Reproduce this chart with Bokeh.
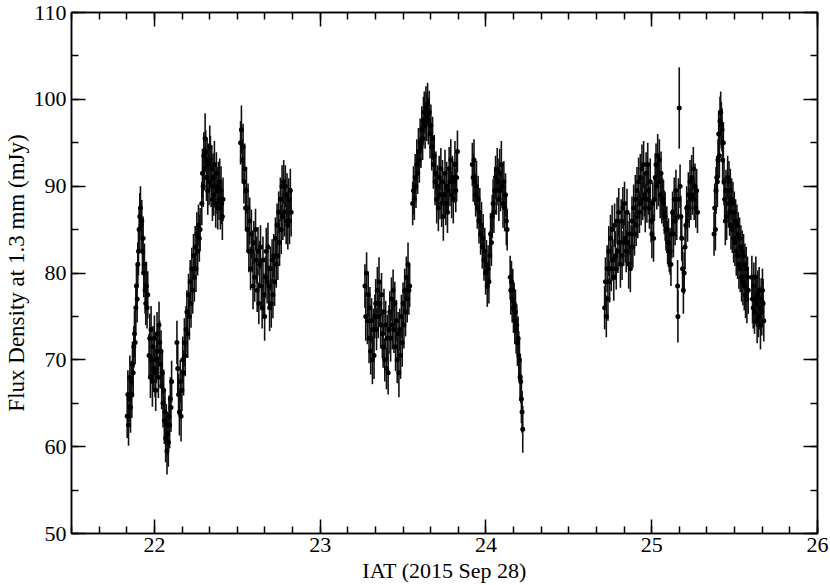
from bokeh.plotting import figure
from bokeh.models import (ColumnDataSource, LinearAxis, SingleIntervalTicker, Range1d,
                          CustomJSTickFormatter, GlobalInlineStyleSheet, Title)
from bokeh.embed import file_html
from bokeh.resources import INLINE

# ---------------- data ----------------
# scan 1a
t_1a = [21.836, 21.840, 21.844, 21.848, 21.852, 21.856, 21.860, 21.864, 21.868, 21.872,
        21.876, 21.880, 21.884, 21.888, 21.892, 21.896, 21.900, 21.904, 21.908, 21.912,
        21.916, 21.920, 21.924, 21.928, 21.932, 21.936, 21.940, 21.944, 21.948, 21.952,
        21.956, 21.960]
f_1a = [63.5, 66.0, 62.5, 65.5, 68.0, 64.5, 67.5, 66.0, 69.5, 68.5,
        71.5, 73.0, 72.0, 76.0, 78.5, 77.0, 81.0, 82.5, 85.0, 86.5,
        87.5, 85.5, 86.0, 82.5, 84.0, 80.0, 81.0, 78.0, 76.5, 78.5,
        76.0, 77.5]
e_1a = [2.5, 2.8, 2.4, 2.7, 2.5, 2.9, 2.4, 2.7, 2.6, 2.8,
        2.4, 2.7, 2.5, 2.8, 2.4, 2.7, 2.5, 2.8, 2.4, 2.7,
        2.5, 2.8, 2.4, 2.7, 2.5, 2.8, 2.4, 2.7, 2.5, 2.8,
        2.4, 2.7]
# scan 1b
t_1b = [21.968, 21.972, 21.976, 21.980, 21.984, 21.988, 21.992, 21.996, 22.000, 22.004,
        22.008, 22.012, 22.016, 22.020, 22.024, 22.028, 22.032, 22.036, 22.040, 22.044,
        22.048, 22.052, 22.056, 22.060, 22.064, 22.068, 22.072, 22.076, 22.080, 22.084,
        22.088, 22.092, 22.096, 22.100, 22.104]
f_1b = [70.5, 72.5, 68.0, 73.5, 70.0, 67.5, 71.5, 69.0, 72.5, 68.5,
        66.5, 70.0, 73.0, 71.0, 68.0, 74.0, 72.0, 69.5, 71.0, 67.0,
        68.5, 65.0, 66.5, 63.0, 64.0, 61.0, 62.5, 59.5, 61.5, 60.5,
        63.5, 62.5, 65.5, 64.5, 67.5]
e_1b = [2.5, 2.8, 2.4, 2.7, 2.5, 2.9, 2.4, 2.7, 2.6, 2.8,
        2.4, 2.7, 2.5, 2.8, 2.4, 2.7, 2.5, 2.8, 2.4, 2.7,
        2.5, 2.8, 2.4, 2.7, 2.5, 2.8, 2.4, 2.7, 2.5, 2.8,
        2.4, 2.7, 2.5, 2.8, 2.4]
# scan 1c
t_1c = [22.136, 22.141, 22.146, 22.151, 22.156, 22.161, 22.166, 22.171, 22.176, 22.181,
        22.186, 22.191, 22.196, 22.201, 22.206, 22.211, 22.216, 22.221, 22.226, 22.231,
        22.236, 22.241, 22.246, 22.251, 22.256, 22.261, 22.266, 22.271, 22.276]
f_1c = [72.0, 69.0, 66.0, 64.0, 67.5, 63.5, 66.5, 70.0, 68.5, 72.0,
        70.5, 73.5, 75.5, 73.0, 77.5, 75.0, 79.0, 76.5, 80.5, 78.0,
        82.0, 79.5, 83.0, 80.5, 84.5, 82.5, 85.5, 84.0, 85.0]
e_1c = [2.5, 2.8, 2.4, 2.7, 2.5, 2.9, 2.4, 2.7, 2.6, 2.8,
        2.4, 2.7, 2.5, 2.8, 2.4, 2.7, 2.5, 2.8, 2.4, 2.7,
        2.5, 2.8, 2.4, 2.7, 2.5, 2.8, 2.4, 2.7, 2.5]
# scan 1d
t_1d = [22.286, 22.290, 22.294, 22.298, 22.302, 22.306, 22.310, 22.314, 22.318, 22.322,
        22.326, 22.330, 22.334, 22.338, 22.342, 22.346, 22.350, 22.354, 22.358, 22.362,
        22.366, 22.370, 22.374, 22.378, 22.382, 22.386, 22.390, 22.394, 22.398, 22.402,
        22.406, 22.410, 22.414]
f_1d = [88.0, 91.5, 90.0, 93.5, 92.0, 95.5, 94.0, 91.0, 93.0, 89.5,
        92.5, 90.5, 94.5, 93.0, 90.0, 92.0, 88.5, 91.0, 89.0, 92.5,
        90.0, 88.0, 91.5, 89.5, 87.5, 90.0, 88.5, 90.5, 87.5, 89.5,
        88.0, 86.5, 88.5]
e_1d = [2.5, 2.8, 2.4, 2.7, 2.5, 2.9, 2.4, 2.7, 2.6, 2.8,
        2.4, 2.7, 2.5, 2.8, 2.4, 2.7, 2.5, 2.8, 2.4, 2.7,
        2.5, 2.8, 2.4, 2.7, 2.5, 2.8, 2.4, 2.7, 2.5, 2.8,
        2.4, 2.7, 2.5]
# scan 1e
t_1e = [22.520, 22.525, 22.530, 22.535, 22.540, 22.545, 22.550, 22.555, 22.560, 22.565,
        22.570, 22.575, 22.580, 22.585, 22.590, 22.595, 22.600, 22.605, 22.610, 22.615,
        22.620, 22.625, 22.630, 22.635, 22.640, 22.645, 22.650, 22.655, 22.660, 22.665,
        22.670, 22.675, 22.680, 22.685, 22.690, 22.695, 22.700, 22.705, 22.710, 22.715,
        22.720, 22.725, 22.730, 22.735, 22.740, 22.745, 22.750, 22.755, 22.760, 22.765,
        22.770, 22.775, 22.780, 22.785, 22.790, 22.795, 22.800, 22.805, 22.810, 22.815,
        22.820, 22.825]
f_1e = [95.0, 96.5, 93.0, 94.5, 90.5, 92.0, 87.5, 89.5, 85.0, 87.5,
        82.5, 86.0, 80.5, 84.5, 82.5, 78.5, 83.5, 79.5, 85.0, 81.5,
        78.0, 82.5, 76.5, 81.0, 83.0, 78.5, 76.0, 81.5, 77.5, 75.0,
        79.5, 82.5, 79.0, 83.0, 78.5, 76.0, 80.5, 76.5, 81.5, 77.5,
        82.0, 79.0, 84.0, 81.0, 85.5, 82.0, 87.0, 83.5, 88.5, 85.0,
        90.0, 86.5, 90.5, 87.0, 90.0, 86.0, 89.0, 85.5, 88.5, 86.0,
        89.5, 87.0]
e_1e = [2.5, 2.8, 2.4, 2.7, 2.5, 2.9, 2.4, 2.7, 2.6, 2.8,
        2.4, 2.7, 2.5, 2.8, 2.4, 2.7, 2.5, 2.8, 2.4, 2.7,
        2.5, 2.8, 2.4, 2.7, 2.5, 2.8, 2.4, 2.7, 2.5, 2.8,
        2.4, 2.7, 2.5, 2.8, 2.4, 2.7, 2.5, 2.8, 2.4, 2.7,
        2.5, 2.8, 2.4, 2.7, 2.5, 2.8, 2.4, 2.7, 2.5, 2.8,
        2.4, 2.7, 2.5, 2.8, 2.4, 2.7, 2.5, 2.8, 2.4, 2.7,
        2.5, 2.8]
# scan 2a
t_2a = [23.270, 23.275, 23.280, 23.285, 23.290, 23.295, 23.300, 23.305, 23.310, 23.315,
        23.320, 23.325, 23.330, 23.335, 23.340, 23.345, 23.350, 23.355, 23.360, 23.365,
        23.370, 23.375, 23.380, 23.385, 23.390, 23.395, 23.400, 23.405, 23.410, 23.415,
        23.420, 23.425, 23.430, 23.435, 23.440, 23.445, 23.450, 23.455, 23.460, 23.465,
        23.470, 23.475, 23.480, 23.485, 23.490, 23.495, 23.500, 23.505, 23.510, 23.515,
        23.520, 23.525, 23.530, 23.535, 23.540]
f_2a = [78.5, 75.0, 80.0, 74.5, 77.5, 72.5, 76.0, 71.0, 74.5, 70.0,
        73.5, 70.5, 75.0, 76.5, 73.5, 78.0, 75.0, 79.0, 76.5, 74.0,
        77.5, 73.0, 71.5, 75.5, 70.0, 74.0, 69.0, 72.5, 68.5, 73.5,
        75.5, 72.5, 77.0, 74.0, 78.0, 73.5, 76.5, 71.5, 74.5, 70.0,
        73.0, 68.5, 73.5, 70.5, 75.0, 72.0, 76.5, 74.0, 78.0, 75.5,
        79.5, 77.0, 81.0, 78.0, 78.5]
e_2a = [2.5, 2.8, 2.4, 2.7, 2.5, 2.9, 2.4, 2.7, 2.6, 2.8,
        2.4, 2.7, 2.5, 2.8, 2.4, 2.7, 2.5, 2.8, 2.4, 2.7,
        2.5, 2.8, 2.4, 2.7, 2.5, 2.8, 2.4, 2.7, 2.5, 2.8,
        2.4, 2.7, 2.5, 2.8, 2.4, 2.7, 2.5, 2.8, 2.4, 2.7,
        2.5, 2.8, 2.4, 2.7, 2.5, 2.8, 2.4, 2.7, 2.5, 2.8,
        2.4, 2.7, 2.5, 2.8, 2.4]
# scan 2b
t_2b = [23.558, 23.563, 23.568, 23.573, 23.578, 23.583, 23.588, 23.593, 23.598, 23.603,
        23.608, 23.613, 23.618, 23.623, 23.628, 23.633, 23.638, 23.643, 23.648, 23.653,
        23.658, 23.663, 23.668, 23.673, 23.678, 23.683, 23.688, 23.693, 23.698, 23.703,
        23.708, 23.713, 23.718, 23.723, 23.728, 23.733, 23.738, 23.743, 23.748, 23.753,
        23.758, 23.763, 23.768, 23.773, 23.778, 23.783, 23.788, 23.793, 23.798, 23.803,
        23.808, 23.813, 23.818, 23.823, 23.828]
f_2b = [88.0, 89.5, 88.5, 91.0, 90.0, 92.5, 91.5, 94.0, 93.0, 95.0,
        94.5, 96.5, 95.5, 97.5, 98.5, 97.0, 99.0, 98.0, 99.5, 97.5,
        98.5, 96.0, 97.0, 94.5, 95.5, 92.5, 93.5, 90.5, 91.5, 88.5,
        90.0, 87.5, 91.0, 89.0, 92.0, 88.0, 90.5, 86.5, 89.0, 91.5,
        88.0, 90.0, 87.0, 89.5, 92.0, 90.5, 93.0, 89.0, 91.0, 88.5,
        90.5, 92.5, 89.5, 91.0, 94.0]
e_2b = [2.5, 2.8, 2.4, 2.7, 2.5, 2.9, 2.4, 2.7, 2.6, 2.8,
        2.4, 2.7, 2.5, 2.8, 2.4, 2.7, 2.5, 2.8, 2.4, 2.7,
        2.5, 2.8, 2.4, 2.7, 2.5, 2.8, 2.4, 2.7, 2.5, 2.8,
        2.4, 2.7, 2.5, 2.8, 2.4, 2.7, 2.5, 2.8, 2.4, 2.7,
        2.5, 2.8, 2.4, 2.7, 2.5, 2.8, 2.4, 2.7, 2.5, 2.8,
        2.4, 2.7, 2.5, 2.8, 2.4]
# scan 2c
t_2c = [23.918, 23.923, 23.928, 23.933, 23.938, 23.943, 23.948, 23.953, 23.958, 23.963,
        23.968, 23.973, 23.978, 23.983, 23.988, 23.993, 23.998, 24.003, 24.008, 24.013,
        24.018, 24.023, 24.028, 24.033, 24.038, 24.043, 24.048, 24.053, 24.058, 24.063,
        24.068, 24.073, 24.078, 24.083, 24.088, 24.093, 24.098, 24.103, 24.108, 24.113,
        24.118, 24.123, 24.128]
f_2c = [92.5, 91.0, 93.0, 90.5, 89.0, 90.0, 87.5, 88.5, 86.0, 87.0,
        84.5, 85.5, 83.0, 84.0, 81.5, 82.5, 80.0, 81.0, 78.5, 80.5,
        79.0, 82.0, 84.5, 83.5, 86.5, 88.0, 87.0, 89.5, 91.0, 89.5,
        92.0, 90.5, 88.5, 91.5, 89.5, 92.5, 90.0, 88.0, 90.5, 87.5,
        89.0, 86.0, 85.0]
e_2c = [2.5, 2.8, 2.4, 2.7, 2.5, 2.9, 2.4, 2.7, 2.6, 2.8,
        2.4, 2.7, 2.5, 2.8, 2.4, 2.7, 2.5, 2.8, 2.4, 2.7,
        2.5, 2.8, 2.4, 2.7, 2.5, 2.8, 2.4, 2.7, 2.5, 2.8,
        2.4, 2.7, 2.5, 2.8, 2.4, 2.7, 2.5, 2.8, 2.4, 2.7,
        2.5, 2.8, 2.4]
# scan 2d
t_2d = [24.146, 24.150, 24.154, 24.158, 24.162, 24.166, 24.170, 24.174, 24.178, 24.182,
        24.186, 24.190, 24.194, 24.198, 24.202, 24.206, 24.210, 24.214, 24.218, 24.222]
f_2d = [79.5, 78.0, 79.0, 77.0, 78.0, 76.0, 76.5, 74.5, 75.5, 73.5,
        74.0, 72.0, 72.5, 70.5, 70.0, 68.0, 67.5, 65.5, 64.0, 62.0]
e_2d = [2.5, 2.8, 2.4, 2.7, 2.5, 2.9, 2.4, 2.7, 2.6, 2.8,
        2.4, 2.7, 2.5, 2.8, 2.4, 2.7, 2.5, 2.8, 2.4, 2.7]
# scan 3a
t_3a = [24.716, 24.721, 24.726, 24.731, 24.736, 24.741, 24.746, 24.751, 24.756, 24.761,
        24.766, 24.771, 24.776, 24.781, 24.786, 24.791, 24.796, 24.801, 24.806, 24.811,
        24.816, 24.821, 24.826, 24.831, 24.836, 24.841, 24.846, 24.851, 24.856, 24.861,
        24.866, 24.871, 24.876, 24.881, 24.886, 24.891, 24.896, 24.901, 24.906, 24.911,
        24.916, 24.921, 24.926, 24.931, 24.936, 24.941, 24.946, 24.951, 24.956, 24.961,
        24.966, 24.971, 24.976, 24.981, 24.986, 24.991, 24.996, 25.001, 25.006, 25.011,
        25.016, 25.021, 25.026, 25.031, 25.036, 25.041, 25.046, 25.051, 25.056, 25.061,
        25.066, 25.071, 25.076, 25.081, 25.086, 25.091, 25.096, 25.101, 25.106, 25.111,
        25.116, 25.121, 25.126, 25.131, 25.136, 25.141, 25.146, 25.151]
f_3a = [76.0, 79.0, 75.0, 80.5, 77.0, 82.5, 79.0, 84.0, 80.5, 85.0,
        81.5, 79.5, 85.5, 82.0, 80.5, 86.0, 82.5, 87.0, 83.5, 81.0,
        86.0, 82.0, 87.5, 83.5, 88.0, 84.0, 82.5, 87.0, 83.5, 81.0,
        84.5, 80.5, 83.0, 86.0, 83.0, 87.5, 84.5, 88.5, 85.5, 89.5,
        86.5, 90.5, 87.0, 91.0, 88.0, 92.0, 88.5, 92.5, 89.0, 87.5,
        91.5, 88.5, 92.5, 89.5, 87.5, 90.5, 86.0, 84.5, 88.0, 84.0,
        88.5, 91.0, 92.5, 90.0, 93.5, 90.5, 93.0, 89.0, 91.5, 88.5,
        88.5, 88.0, 87.0, 86.5, 85.0, 85.0, 83.5, 83.5, 82.5, 82.5,
        81.0, 84.5, 87.0, 84.5, 88.5, 86.0, 89.5, 86.5]
e_3a = [2.5, 2.8, 2.4, 2.7, 2.5, 2.9, 2.4, 2.7, 2.6, 2.8,
        2.4, 2.7, 2.5, 2.8, 2.4, 2.7, 2.5, 2.8, 2.4, 2.7,
        2.5, 2.8, 2.4, 2.7, 2.5, 2.8, 2.4, 2.7, 2.5, 2.8,
        2.4, 2.7, 2.5, 2.8, 2.4, 2.7, 2.5, 2.8, 2.4, 2.7,
        2.5, 2.8, 2.4, 2.7, 2.5, 2.8, 2.4, 2.7, 2.5, 2.8,
        2.4, 2.7, 2.5, 2.8, 2.4, 2.7, 2.5, 2.8, 2.4, 2.7,
        2.5, 2.8, 2.4, 2.7, 2.5, 2.8, 2.4, 2.7, 2.5, 2.8,
        2.4, 2.7, 2.5, 2.8, 2.4, 2.7, 2.5, 2.8, 2.4, 2.7,
        2.5, 2.8, 2.4, 2.7, 2.5, 2.8, 2.4, 2.7]
# scan 3b (includes the lone high point near 25.17 h)
t_3b = [25.156, 25.158, 25.161, 25.166, 25.171, 25.176, 25.181, 25.186, 25.191, 25.196,
        25.201, 25.206, 25.211, 25.216, 25.221, 25.226, 25.231, 25.236, 25.241, 25.246,
        25.251, 25.256, 25.261, 25.266, 25.271, 25.276]
f_3b = [78.5, 75.0, 88.5, 99.0, 90.0, 86.5, 84.0, 80.5, 78.0, 80.0,
        83.0, 85.5, 87.5, 86.0, 89.0, 87.5, 90.5, 88.5, 91.0, 89.0,
        92.0, 88.5, 90.0, 87.5, 89.5, 87.0]
e_3b = [3.0, 3.0, 2.4, 4.7, 2.5, 2.4, 2.6, 2.5, 2.7, 2.4,
        2.6, 2.3, 2.5, 2.4, 2.6, 2.3, 2.5, 2.4, 2.6, 2.3,
        2.5, 2.4, 2.6, 2.3, 2.5, 2.4]
# scan 3c
t_3c = [25.376, 25.380, 25.384, 25.388, 25.392, 25.396, 25.400, 25.404, 25.408, 25.412,
        25.416, 25.420, 25.424, 25.428, 25.432, 25.436, 25.440, 25.444, 25.448, 25.452,
        25.458, 25.462, 25.466, 25.470, 25.474, 25.478, 25.482, 25.486, 25.490, 25.494,
        25.498, 25.502, 25.506, 25.510, 25.514, 25.518, 25.522, 25.526, 25.530, 25.534,
        25.538, 25.542, 25.546, 25.550, 25.554, 25.558, 25.562, 25.566, 25.570, 25.574,
        25.578, 25.582]
f_3c = [84.5, 87.5, 85.0, 89.5, 91.0, 90.5, 93.0, 96.0, 93.5, 97.5,
        98.5, 97.0, 96.5, 93.0, 95.0, 90.5, 88.5, 86.0, 89.5, 86.5,
        91.0, 88.0, 90.5, 87.0, 89.5, 85.5, 88.5, 85.0, 88.0, 84.0,
        87.0, 83.5, 86.0, 82.5, 85.5, 82.0, 84.5, 81.0, 84.0, 80.5,
        83.0, 79.5, 82.5, 79.0, 82.0, 78.5, 81.0, 77.5, 80.5, 77.0,
        79.5, 78.0]
e_3c = [2.5, 2.8, 2.4, 2.7, 2.5, 2.9, 2.4, 2.7, 2.6, 2.8,
        2.4, 2.7, 2.5, 2.8, 2.4, 2.7, 2.5, 2.8, 2.4, 2.7,
        2.5, 2.8, 2.4, 2.7, 2.5, 2.8, 2.4, 2.7, 2.5, 2.8,
        2.4, 2.7, 2.5, 2.8, 2.4, 2.7, 2.5, 2.8, 2.4, 2.7,
        2.5, 2.8, 2.4, 2.7, 2.5, 2.8, 2.4, 2.7, 2.5, 2.8,
        2.4, 2.7]
# scan 3d
t_3d = [25.604, 25.608, 25.612, 25.616, 25.620, 25.624, 25.628, 25.632, 25.636, 25.640,
        25.644, 25.648, 25.652, 25.656, 25.660, 25.664, 25.668, 25.672, 25.676]
f_3d = [79.5, 77.0, 76.0, 78.5, 75.5, 77.0, 79.5, 76.5, 74.5, 77.5,
        75.0, 78.0, 76.0, 74.0, 77.0, 75.5, 78.0, 76.5, 74.5]
e_3d = [2.5, 2.8, 2.4, 2.7, 2.5, 2.9, 2.4, 2.7, 2.6, 2.8,
        2.4, 2.7, 2.5, 2.8, 2.4, 2.7, 2.5, 2.8, 2.4]

x_ticks_interval = 1
y_ticks_interval = 10
x_label = "IAT (2015 Sep 28)"
y_label = "Flux Density at 1.3 mm (mJy)"

scans = [(t_1a, f_1a, e_1a), (t_1b, f_1b, e_1b), (t_1c, f_1c, e_1c), (t_1d, f_1d, e_1d),
         (t_1e, f_1e, e_1e), (t_2a, f_2a, e_2a), (t_2b, f_2b, e_2b), (t_2c, f_2c, e_2c),
         (t_2d, f_2d, e_2d), (t_3a, f_3a, e_3a), (t_3b, f_3b, e_3b), (t_3c, f_3c, e_3c),
         (t_3d, f_3d, e_3d)]

time, flux, lo, hi = [], [], [], []
for t, f, e in scans:
    assert len(t) == len(f) == len(e), (len(t), len(f), len(e))
    time += t
    flux += f
    lo += [a - b for a, b in zip(f, e)]
    hi += [a + b for a, b in zip(f, e)]
src = ColumnDataSource(dict(t=time, f=flux, lo=lo, hi=hi))

FONT = "Liberation Serif"

p = figure(width=830, height=585, x_range=Range1d(21.5, 26), y_range=Range1d(50, 110),
           output_backend="svg", toolbar_location=None,
           min_border_left=67, min_border_right=13, min_border_top=12, min_border_bottom=50)
p.stylesheets = [GlobalInlineStyleSheet(css="html, body { margin: 0 !important; padding: 0 !important; overflow: hidden; }")]
p.xgrid.visible = False
p.ygrid.visible = False
p.outline_line_color = "black"
p.outline_line_width = 1.5
p.background_fill_color = "white"
p.border_fill_color = "white"

p.segment(x0="t", y0="lo", x1="t", y1="hi", source=src, line_color="#111111", line_width=1.6)
p.scatter(x="t", y="f", source=src, size=5, marker="circle", fill_color="black", line_color=None)

bottom = p.xaxis[0]
left = p.yaxis[0]
bottom.ticker = SingleIntervalTicker(interval=x_ticks_interval, num_minor_ticks=6)
left.ticker = SingleIntervalTicker(interval=y_ticks_interval, num_minor_ticks=2)
top = LinearAxis(ticker=SingleIntervalTicker(interval=x_ticks_interval, num_minor_ticks=6))
right = LinearAxis(ticker=SingleIntervalTicker(interval=y_ticks_interval, num_minor_ticks=2))
p.add_layout(top, "above")
p.add_layout(right, "right")


def style(ax, labels):
    ax.axis_line_color = "black"
    ax.axis_line_width = 1.5
    ax.major_tick_line_color = "black"
    ax.minor_tick_line_color = "black"
    ax.major_tick_line_width = 1.5
    ax.minor_tick_line_width = 1.5
    ax.major_tick_in = 14
    ax.major_tick_out = 0
    ax.minor_tick_in = 7
    ax.minor_tick_out = 0
    ax.major_label_text_font = FONT
    ax.major_label_text_color = "black"
    ax.axis_label_text_font = FONT
    ax.axis_label_text_font_style = "normal"
    ax.axis_label_text_color = "black"
    if labels:
        ax.major_label_text_font_size = "22px"
        ax.major_label_standoff = 5
    else:
        ax.formatter = CustomJSTickFormatter(code="return ''")
        ax.major_label_text_font_size = "1px"
        ax.major_label_standoff = 0


style(bottom, True)
style(left, True)
style(top, False)
style(right, False)
bottom.major_label_standoff = 4
bottom.axis_label = x_label
bottom.axis_label_text_font_size = "22px"
bottom.axis_label_standoff = 3

# y label as a side title so it can sit a little above the frame centre, as in the original
ytitle = Title(text=y_label, align="center", offset=26, standoff=3,
               text_font=FONT, text_font_size="23px", text_font_style="normal",
               text_color="black")
p.add_layout(ytitle, "left")

open("out.html", "w").write(file_html(p, INLINE))
